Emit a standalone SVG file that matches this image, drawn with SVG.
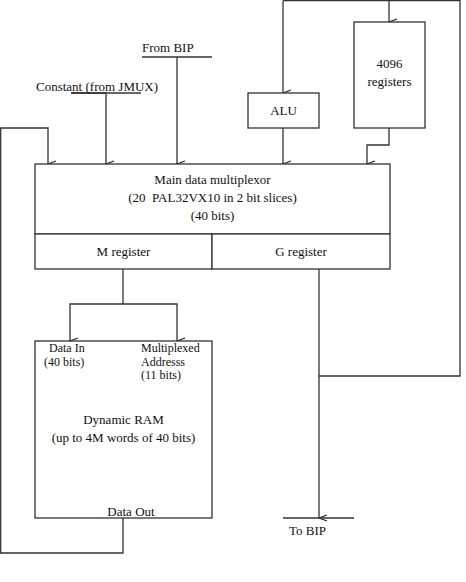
<svg xmlns="http://www.w3.org/2000/svg" width="466" height="582" viewBox="0 0 466 582">
<style>
.b{fill:#fff;stroke:#333;stroke-width:1.3}
.l{fill:none;stroke:#333;stroke-width:1.3}
.a{fill:none;stroke:#333;stroke-width:1.3;marker-end:url(#ar)}
text{font-family:"Liberation Serif","Times New Roman",serif;font-size:13px;fill:#111}
.m{text-anchor:middle}
.s{font-size:12px}
</style>
<defs>
<marker id="ar" markerWidth="8" markerHeight="10" refX="4" refY="9" orient="auto-start-reverse" markerUnits="userSpaceOnUse" viewBox="0 0 8 10">
<path d="M1,1 L4,9 L7,1" fill="none" stroke="#222" stroke-width="1.2"/>
</marker>
</defs>
<g id="connectors">
<polyline class="a" points="123,518 123,553 0.7,553 0.7,128 48,128 48,164"/>
<polyline class="a" points="71,93 106,93 106,164"/>
<line class="l" x1="71" y1="93" x2="141" y2="93"/>
<line class="l" x1="142" y1="57" x2="212" y2="57"/>
<polyline class="a" points="177,57 177,164"/>
<polyline class="a" points="283,0.7 283,93"/>
<polyline class="l" points="283,0.7 460,0.7 460,376 319,376"/>
<polyline class="a" points="389,0.7 389,22"/>
<polyline class="a" points="283,128 283,164"/>
<polyline class="a" points="389,128 389,145 367,145 367,164"/>
<polyline class="a" points="319,269 319,518"/>
<line class="l" x1="283" y1="518" x2="354" y2="518"/>
<polyline class="l" points="123,269 123,304"/>
<polyline class="a" points="123,304 70,304 70,341"/>
<polyline class="a" points="123,304 177,304 177,341"/>
</g>
<g id="alu">
<rect class="b" x="248" y="93" width="71" height="35"/>
<text class="m" x="283.5" y="115">ALU</text>
</g>
<g id="registers4096">
<rect class="b" x="354" y="22" width="71" height="106"/>
<text class="m" x="389.5" y="68">4096</text>
<text class="m" x="389.5" y="86">registers</text>
</g>
<g id="mux">
<rect class="b" x="35" y="164" width="355" height="70"/>
<text class="m" x="212.5" y="184">Main data multiplexor</text>
<text class="m" x="212.5" y="202" xml:space="preserve">(20  PAL32VX10 in 2 bit slices)</text>
<text class="m" x="212.5" y="220">(40 bits)</text>
</g>
<g id="mreg">
<rect class="b" x="35" y="234" width="177" height="35"/>
<text class="m" x="123.5" y="256">M register</text>
</g>
<g id="greg">
<rect class="b" x="212" y="234" width="178" height="35"/>
<text class="m" x="301" y="256">G register</text>
</g>
<g id="dram">
<rect class="b" x="35" y="341" width="177" height="177"/>
<text class="s" x="49" y="352">Data In</text>
<text class="s" x="44" y="365.5">(40 bits)</text>
<text class="s" x="141" y="352">Multiplexed</text>
<text class="s" x="141" y="365.5">Addresss</text>
<text class="s" x="141" y="379">(11 bits)</text>
<text class="m" x="123.5" y="424">Dynamic RAM</text>
<text class="m" x="123.5" y="442">(up to 4M words of 40 bits)</text>
<text class="m" x="131" y="516">Data Out</text>
</g>
<g id="labels">
<text x="142" y="52">From BIP</text>
<text x="36" y="91">Constant (from JMUX)</text>
<text x="289" y="535">To BIP</text>
</g>
</svg>
